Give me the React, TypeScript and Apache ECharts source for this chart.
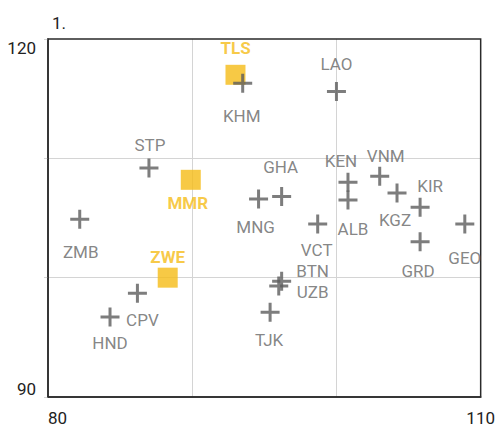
import React, { useEffect, useRef } from "react";
import * as echarts from "echarts";

// Highlighted countries (yellow squares)
const hiCodes = ["TLS", "MMR", "ZWE"];
const hiX = [93.0, 89.9, 88.3];
const hiY = [117.0, 108.2, 100.0];

// Other countries (grey crosses)
const codes = ["KHM", "LAO", "STP", "GHA", "MNG", "KEN", "ALB", "VNM", "KGZ", "KIR", "GEO", "GRD", "VCT", "BTN", "UZB", "TJK", "ZMB", "CPV", "HND"];
const xs = [93.5, 100.0, 87.0, 96.2, 94.6, 100.8, 100.8, 103.0, 104.2, 105.8, 108.9, 105.8, 98.7, 96.2, 96.0, 95.4, 82.2, 86.2, 84.3];
const ys = [116.3, 115.6, 109.2, 106.8, 106.6, 108.0, 106.5, 108.5, 107.1, 105.9, 104.5, 103.0, 104.5, 99.7, 99.3, 97.1, 104.9, 98.7, 96.7];

const xTickLabels = ["80", "110"];
const yTickLabels = ["90", "120"];

// label placement (style)
const labelOffset: Record<string, [number, number]> = {
  TLS: [0, -27], MMR: [-3, 23], ZWE: [0, -21],
  KHM: [-1, 33], LAO: [0, -28], STP: [1, -23], GHA: [-1, -30], MNG: [-3, 28],
  KEN: [-7, -21], ALB: [5, 29], VNM: [6, -20], KGZ: [-2, 27], KIR: [10, -21],
  GEO: [0, 34], GRD: [-2, 29], VCT: [-1, 26], BTN: [31, -10], UZB: [34, 6],
  TJK: [-1, 28], ZMB: [1, 33], CPV: [5, 27], HND: [0, 26],
};

const FONT = "Roboto, 'DejaVu Sans', sans-serif";
const YELLOW = "#F5BC17";
const GREY = "#5c5c5c";
const CROSS = "path://M8 0h3v8h8v3h-8v8h-3v-8h-8v-3h8z";

export default function App() {
  const ref = useRef<HTMLDivElement>(null);
  useEffect(() => {
    if (!ref.current) return;
    const chart = echarts.init(ref.current, undefined, { renderer: "svg" });
    const hiData = hiCodes.map((c, i) => ({
      name: c,
      value: [hiX[i], hiY[i]],
      label: { offset: labelOffset[c] },
    }));
    const data = codes.map((c, i) => ({
      name: c,
      value: [xs[i], ys[i]],
      label: { offset: labelOffset[c] },
    }));
    chart.setOption({
      animation: false,
      textStyle: { fontFamily: FONT },
      title: {
        text: "1.",
        left: 47,
        top: 9,
        textStyle: { fontFamily: FONT, fontSize: 17, fontWeight: "normal", color: "#222" },
      },
      grid: {
        left: 48,
        right: 12,
        top: 39,
        bottom: 37,
        show: true,
        borderColor: "#2a2a2a",
        borderWidth: 1.5,
        backgroundColor: "transparent",
        z: 3,
      },
      xAxis: {
        type: "value",
        min: 80,
        max: 110,
        interval: 10,
        axisLine: { show: true, lineStyle: { color: "#2a2a2a", width: 1.5 } },
        axisTick: { show: false },
        splitLine: { show: true, showMinLine: false, showMaxLine: false, lineStyle: { color: "#d4d4d4", width: 1 } },
        axisLabel: {
          fontFamily: FONT,
          fontSize: 17,
          color: "#222",
          margin: 12,
          alignMinLabel: "left",
          formatter: (v: number) => (xTickLabels.includes(String(v)) ? String(v) : ""),
        },
      },
      yAxis: {
        type: "value",
        min: 90,
        max: 120,
        interval: 10,
        axisLine: { show: true, lineStyle: { color: "#2a2a2a", width: 1.5 } },
        axisTick: { show: true, length: 4, lineStyle: { color: "#d4d4d4" } },
        splitLine: { show: true, showMinLine: false, showMaxLine: false, lineStyle: { color: "#d4d4d4", width: 1 } },
        axisLabel: {
          fontFamily: FONT,
          fontSize: 17,
          color: "#222",
          margin: 12,
          verticalAlignMinLabel: "bottom",
          verticalAlignMaxLabel: "top",
          formatter: (v: number) => (yTickLabels.includes(String(v)) ? String(v) : ""),
        },
      },
      series: [
        {
          type: "scatter",
          symbol: "rect",
          symbolSize: 20,
          itemStyle: { color: YELLOW },
          data: hiData,
          label: {
            show: true,
            position: "inside",
            formatter: (p: any) => p.name,
            color: YELLOW,
            fontWeight: "bold",
            fontSize: 17,
            fontFamily: FONT,
          },
          z: 2,
        },
        {
          type: "scatter",
          symbol: CROSS,
          symbolSize: 19,
          itemStyle: { color: GREY },
          data,
          label: {
            show: true,
            position: "inside",
            formatter: (p: any) => p.name,
            color: "#666",
            fontSize: 17,
            fontFamily: FONT,
          },
          z: 3,
        },
      ],
    });
    return () => chart.dispose();
  }, []);
  return (
    <div
      ref={ref}
      style={{ position: "absolute", left: 0, top: 0, width: 498, height: 434 }}
    />
  );
}
